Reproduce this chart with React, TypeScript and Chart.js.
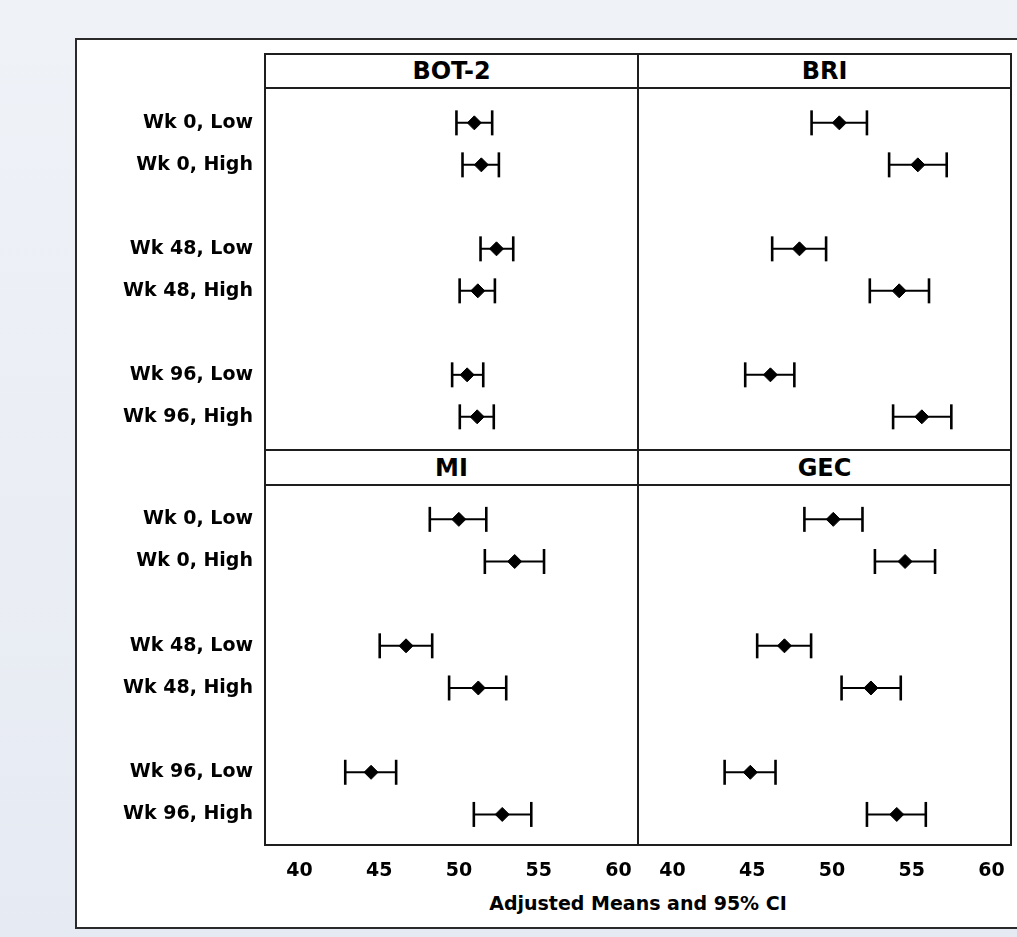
import React, { useEffect, useRef } from 'react';
import { Chart, registerables } from 'chart.js';

Chart.register(...registerables);

// ---------- data ----------
const weeks = ['Wk 0', 'Wk 48', 'Wk 96'];
const doses = ['Low', 'High'];
const categories = weeks.flatMap((w) => doses.map((d) => `${w}, ${d}`));
// row slot of each category (one empty slot between week groups)
const slots = weeks.flatMap((_, wi) => doses.map((_, di) => wi * (doses.length + 1) + di));

const xTicks = [40, 45, 50, 55, 60];
const xAxisTitle = 'Adjusted Means and 95% CI';

const bot2Mean = [50.96, 51.40, 52.35, 51.18, 50.51, 51.14];
const bot2Lo = [49.84, 50.22, 51.35, 50.04, 49.57, 50.05];
const bot2Hi = [52.08, 52.50, 53.40, 52.25, 51.52, 52.18];

const briMean = [50.46, 55.38, 47.96, 54.21, 46.14, 55.63];
const briLo = [48.72, 53.58, 46.25, 52.37, 44.56, 53.83];
const briHi = [52.19, 57.19, 49.63, 56.08, 47.64, 57.48];

const miMean = [49.99, 53.49, 46.68, 51.21, 44.49, 52.71];
const miLo = [48.17, 51.62, 45.03, 49.38, 42.87, 50.93];
const miHi = [51.71, 55.33, 48.32, 52.96, 46.06, 54.53];

const gecMean = [50.08, 54.58, 47.02, 52.44, 44.88, 54.06];
const gecLo = [48.27, 52.69, 45.31, 50.60, 43.27, 52.19];
const gecHi = [51.91, 56.46, 48.69, 54.31, 46.46, 55.88];

// ---------- styling ----------
const FONT = 'DejaVu Sans';
const TICK_FONT = { family: FONT, weight: 'bold' as const, size: 19 };
const X_MIN = 37.84;
const X_MAX = 61.22;

type PanelProps = {
  mean: number[];
  lo: number[];
  hi: number[];
  showY: boolean;
  showX: boolean;
  yMin: number;
  yMax: number;
  padRight: number;
  width: number;
  height: number;
  left: number;
  top: number;
};

function Panel(p: PanelProps) {
  const ref = useRef<HTMLCanvasElement | null>(null);
  useEffect(() => {
    if (!ref.current) return;
    const ciSets = slots.map((s, i) => ({
      showLine: true,
      data: [
        { x: p.lo[i], y: s },
        { x: p.hi[i], y: s },
      ],
      borderColor: '#000',
      borderWidth: 2,
      pointRadius: 0,
      pointHoverRadius: 0,
    }));
    const caps = {
      data: slots.flatMap((s, i) => [
        { x: p.lo[i], y: s },
        { x: p.hi[i], y: s },
      ]),
      pointStyle: 'line',
      pointRotation: 90,
      pointRadius: 12.5,
      pointHoverRadius: 12.5,
      pointBorderColor: '#000',
      pointBackgroundColor: '#000',
      pointBorderWidth: 2.6,
      borderColor: '#000',
    };
    const means = {
      data: slots.map((s, i) => ({ x: p.mean[i], y: s })),
      pointStyle: 'rectRot',
      pointRadius: 7,
      pointHoverRadius: 7,
      pointBackgroundColor: '#000',
      pointBorderColor: '#000',
      pointBorderWidth: 1,
      borderColor: '#000',
    };
    const chart = new Chart(ref.current, {
      type: 'scatter',
      data: { datasets: [...ciSets, caps, means] as any },
      options: {
        animation: false,
        responsive: false,
        events: [],
        layout: { autoPadding: false, padding: { left: 0, top: 0, bottom: 0, right: p.padRight } },
        plugins: { legend: { display: false }, tooltip: { enabled: false }, title: { display: false } },
        scales: {
          x: {
            type: 'linear',
            bounds: 'data',
            min: X_MIN,
            max: X_MAX,
            display: p.showX,
            afterBuildTicks: (s: any) => {
              s.ticks = xTicks.map((v) => ({ value: v }));
            },
            grid: { display: false, drawTicks: false, tickLength: 0 },
            border: { display: false },
            ticks: { font: TICK_FONT, color: '#000', padding: 15, maxRotation: 0, autoSkip: false },
            afterFit: (s: any) => {
              if (p.showX) s.height = 45;
              s.paddingLeft = 0;
              s.paddingRight = 0;
            },
          },
          y: {
            type: 'linear',
            bounds: 'data',
            reverse: true,
            min: p.yMin,
            max: p.yMax,
            display: p.showY,
            afterBuildTicks: (s: any) => {
              s.ticks = slots.map((v) => ({ value: v }));
            },
            grid: { display: false, drawTicks: false, tickLength: 0 },
            border: { display: false },
            ticks: {
              font: TICK_FONT,
              color: '#000',
              padding: 12,
              autoSkip: false,
              callback: (_v: any, i: number) => categories[i],
            },
            afterFit: (s: any) => {
              if (p.showY) s.width = 189;
              s.paddingTop = 0;
              s.paddingBottom = 0;
            },
          },
        },
      } as any,
    });
    return () => chart.destroy();
  }, []);
  return (
    <canvas
      ref={ref}
      width={p.width}
      height={p.height}
      style={{ position: 'absolute', left: p.left, top: p.top, width: p.width, height: p.height }}
    />
  );
}

const LINE = '#1e1e1e';

function HLine({ x, y, w }: { x: number; y: number; w: number }) {
  return <div style={{ position: 'absolute', left: x, top: y, width: w, height: 2, background: LINE }} />;
}
function VLine({ x, y, h }: { x: number; y: number; h: number }) {
  return <div style={{ position: 'absolute', left: x, top: y, width: 2, height: h, background: LINE }} />;
}
function Header({ text, x, y, w, h }: { text: string; x: number; y: number; w: number; h: number }) {
  return (
    <div
      style={{
        position: 'absolute',
        left: x,
        top: y,
        width: w,
        height: h,
        display: 'flex',
        alignItems: 'center',
        justifyContent: 'center',
        fontFamily: FONT,
        fontWeight: 'bold',
        fontSize: 24,
        color: '#000',
        lineHeight: 1,
      }}
    >
      {text}
    </div>
  );
}

export default function App() {
  useEffect(() => {
    document.body.style.margin = '0';
  }, []);
  const gridL = 264;
  const gridR = 1012;
  const midX = 637;
  return (
    <div
      style={{
        position: 'relative',
        width: 1017,
        height: 937,
        overflow: 'hidden',
        background: 'linear-gradient(to bottom, #eff2f7, #e6eaf2)',
      }}
    >
      <div
        style={{
          position: 'absolute',
          left: 75,
          top: 38,
          width: 1000,
          height: 891,
          background: '#fff',
          border: '2px solid #2a2a2a',
          boxSizing: 'border-box',
        }}
      />
      <Panel mean={bot2Mean} lo={bot2Lo} hi={bot2Hi} showY={true} showX={false} yMin={-0.83} yMax={7.79} padRight={0} left={76} top={88} width={562} height={362} />
      <Panel mean={briMean} lo={briLo} hi={briHi} showY={false} showX={false} yMin={-0.83} yMax={7.79} padRight={6} left={638} top={88} width={379} height={362} />
      <Panel mean={miMean} lo={miLo} hi={miHi} showY={true} showX={true} yMin={-0.815} yMax={7.725} padRight={0} left={76} top={485} width={562} height={405} />
      <Panel mean={gecMean} lo={gecLo} hi={gecHi} showY={false} showX={true} yMin={-0.815} yMax={7.725} padRight={6} left={638} top={485} width={379} height={405} />

      {/* frame */}
      <HLine x={gridL} y={53} w={gridR - gridL} />
      <HLine x={gridL} y={87} w={gridR - gridL} />
      <HLine x={gridL} y={449} w={gridR - gridL} />
      <HLine x={gridL} y={484} w={gridR - gridL} />
      <HLine x={gridL} y={844} w={gridR - gridL} />
      <VLine x={gridL} y={53} h={793} />
      <VLine x={midX} y={53} h={793} />
      <VLine x={gridR - 2} y={53} h={793} />

      <Header text="BOT-2" x={gridL + 2} y={55} w={midX - gridL - 2} h={32} />
      <Header text="BRI" x={midX + 2} y={55} w={gridR - midX - 4} h={32} />
      <Header text="MI" x={gridL + 2} y={451} w={midX - gridL - 2} h={33} />
      <Header text="GEC" x={midX + 2} y={451} w={gridR - midX - 4} h={33} />

      <div
        style={{
          position: 'absolute',
          left: gridL,
          top: 892,
          width: gridR - gridL,
          textAlign: 'center',
          fontFamily: FONT,
          fontWeight: 'bold',
          fontSize: 19,
          lineHeight: '22px',
          color: '#000',
        }}
      >
        {xAxisTitle}
      </div>
    </div>
  );
}
